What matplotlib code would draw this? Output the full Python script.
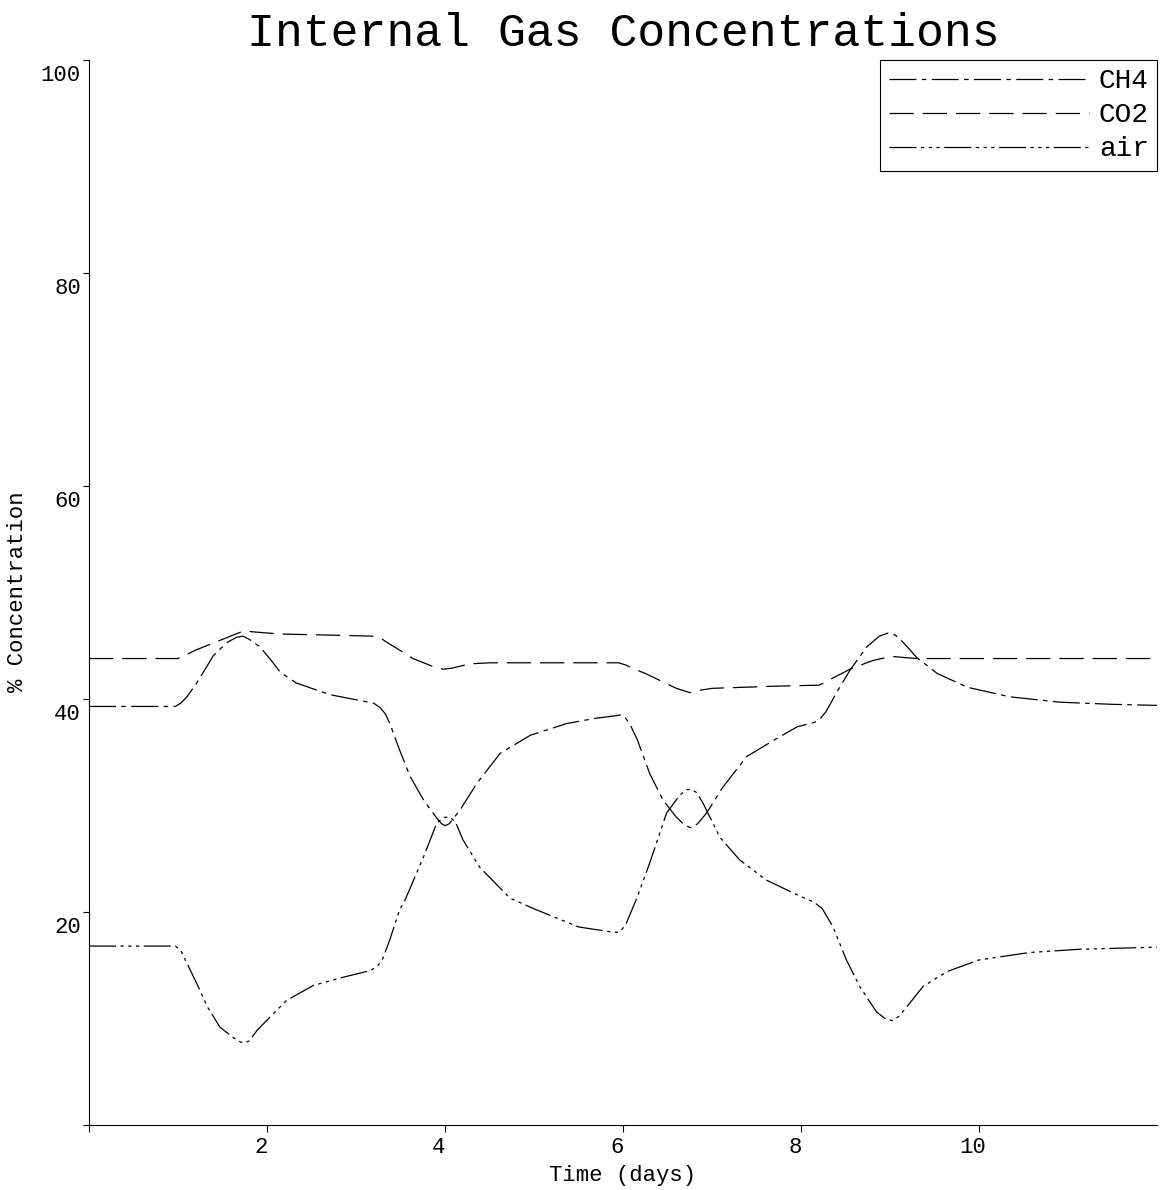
import numpy as np
import matplotlib
matplotlib.use("Agg")
import matplotlib.pyplot as plt
from matplotlib.transforms import ScaledTranslation

plt.rcParams['font.family'] = ['Liberation Mono', 'DejaVu Sans Mono']

# ---------------- data ----------------
co2_days = [0, 1.0, 1.08, 1.2, 1.5, 1.74, 1.85, 2.15, 2.7, 3.2, 3.28, 3.35, 3.45,
            3.64, 3.85, 3.98, 4.08, 4.28, 4.5, 5.95, 6.03, 6.1, 6.25, 6.4, 6.6,
            6.75, 6.85, 7.0, 7.7, 8.2, 8.26, 8.32, 8.55, 8.8, 9.02, 9.15, 9.3, 12.0]
co2 = [43.8, 43.8, 44.1, 44.6, 45.6, 46.4, 46.3, 46.1, 46.0, 45.9, 45.7, 45.3, 44.8,
       43.8, 43.1, 42.8, 42.9, 43.3, 43.4, 43.4, 43.2, 42.9, 42.4, 41.8, 41.0,
       40.6, 40.8, 41.0, 41.2, 41.3, 41.5, 41.8, 42.8, 43.6, 44.0, 43.9, 43.8, 43.8]

ch4_days = [0, 0.97, 1.03, 1.1, 1.21, 1.4, 1.55, 1.66, 1.73, 1.8, 1.92, 2.05, 2.15,
            2.33, 2.71, 3.08, 3.2, 3.27, 3.33, 3.38, 3.49, 3.61, 3.76, 3.9, 3.96,
            4.0, 4.05, 4.17, 4.36, 4.62, 4.96, 5.37, 5.7, 5.89, 5.97, 6.02, 6.08,
            6.16, 6.3, 6.45, 6.6, 6.7, 6.77, 6.84, 6.94, 7.12, 7.39, 7.73, 7.96,
            8.15, 8.21, 8.28, 8.4, 8.55, 8.74, 8.88, 8.98, 9.06, 9.15, 9.3, 9.53,
            9.87, 10.35, 10.91, 11.5, 12.0]
ch4 = [39.3, 39.3, 39.6, 40.2, 41.5, 44.1, 45.3, 45.8, 45.9, 45.6, 44.9, 43.6, 42.5,
       41.5, 40.4, 39.8, 39.6, 39.2, 38.6, 37.7, 35.2, 32.7, 30.5, 28.9, 28.3,
       28.1, 28.3, 29.6, 32.1, 34.9, 36.6, 37.7, 38.2, 38.4, 38.5, 38.3, 37.6,
       36.2, 33.0, 30.5, 28.9, 28.1, 27.9, 28.3, 29.3, 31.7, 34.6, 36.3, 37.4,
       37.8, 38.1, 38.8, 40.6, 42.7, 44.9, 45.9, 46.2, 46.0, 45.3, 43.9, 42.4,
       41.1, 40.2, 39.7, 39.5, 39.4]

air_days = [0, 0.97, 1.03, 1.1, 1.21, 1.33, 1.47, 1.62, 1.7, 1.75, 1.8, 1.89, 2.03,
            2.22, 2.52, 2.82, 3.16, 3.24, 3.3, 3.38, 3.49, 3.55, 3.76, 3.91, 4.0,
            4.06, 4.12, 4.2, 4.39, 4.73, 5.0, 5.5, 5.89, 5.96, 6.03, 6.16, 6.3,
            6.49, 6.64, 6.72, 6.77, 6.83, 6.9, 7.09, 7.31, 7.61, 7.96, 8.15, 8.24,
            8.36, 8.51, 8.66, 8.85, 8.96, 9.03, 9.1, 9.19, 9.37, 9.64, 10.0, 10.57,
            11.13, 12.0]
air = [16.8, 16.8, 16.4, 15.2, 13.3, 11.1, 9.2, 8.2, 7.8, 7.7, 7.9, 8.9, 10.1,
       11.7, 13.1, 13.8, 14.5, 14.9, 15.6, 17.4, 20.2, 21.1, 25.2, 28.4, 28.9,
       28.9, 28.4, 26.8, 24.2, 21.3, 20.3, 18.6, 18.1, 18.1, 18.8, 21.4, 24.6,
       29.3, 31.0, 31.5, 31.5, 31.2, 30.2, 27.0, 24.9, 23.0, 21.6, 20.9, 20.3,
       18.6, 15.5, 13.0, 10.6, 9.9, 9.8, 10.2, 11.1, 13.0, 14.4, 15.5, 16.2,
       16.5, 16.7]

x_ticks = [0, 2, 4, 6, 8, 10]
x_labels = ['', '2', '4', '6', '8', '10']
y_ticks = [0, 20, 40, 60, 80, 100]
y_labels = ['', '20', '40', '60', '80', '100']

# ---------------- figure ----------------
W, H = 1164, 1190
fig = plt.figure(figsize=(W / 100, H / 100), dpi=100)
ax = fig.add_axes([89 / W, 65 / H, (1157 - 89) / W, (1125 - 60) / H])

lw = 0.9
ax.plot(ch4_days, ch4, color='black', lw=lw, label='CH4',
        dashes=(21.6, 4.3, 3.6, 4.3))
ax.plot(co2_days, co2, color='black', lw=lw, label='CO2',
        dashes=(19.4, 7.2))
ax.plot(air_days, air, color='black', lw=lw, label='air',
        dashes=(21.6, 3.6, 2.6, 3.6, 2.6, 3.6, 2.6, 3.6))

ax.set_xlim(0, 12)
ax.set_ylim(0, 100)
ax.spines['top'].set_visible(False)
ax.spines['right'].set_visible(False)
for s in ['left', 'bottom']:
    ax.spines[s].set_linewidth(0.8)

ax.set_xticks(x_ticks)
ax.set_xticklabels(x_labels)
ax.set_yticks(y_ticks)
ax.set_yticklabels(y_labels)
ax.tick_params(axis='x', direction='out', length=5, width=0.8, pad=3.5, labelsize=16)
ax.tick_params(axis='y', direction='out', length=4.3, width=0.8, pad=1.5, labelsize=16)

# old-style label placement: x labels a bit left of tick, y labels below tick
for lab in ax.get_xticklabels():
    lab.set_transform(lab.get_transform() + ScaledTranslation(-6 / 100, 0, fig.dpi_scale_trans))
for lab in ax.get_yticklabels():
    lab.set_transform(lab.get_transform() + ScaledTranslation(0, -13 / 100, fig.dpi_scale_trans))

fig.text(623 / W, 1 - 46 / H, 'Internal Gas Concentrations', fontsize=33.5,
         ha='center', va='baseline')
fig.text(623 / W, 1 - 1175 / H, 'Time (days)', fontsize=16, ha='center', va='center')
fig.text(18 / W, 1 - 592 / H, '% Concentration', fontsize=16, rotation=90,
         ha='center', va='center')

leg = ax.legend(loc='upper right', bbox_to_anchor=(1.0, 1.0), borderaxespad=0,
                fontsize=20, handlelength=7.2, handletextpad=0.36,
                borderpad=0.3, labelspacing=0.29, fancybox=False, framealpha=1)
leg.get_frame().set_edgecolor('black')
leg.get_frame().set_linewidth(0.8)

fig.savefig('out.png', dpi=100)
